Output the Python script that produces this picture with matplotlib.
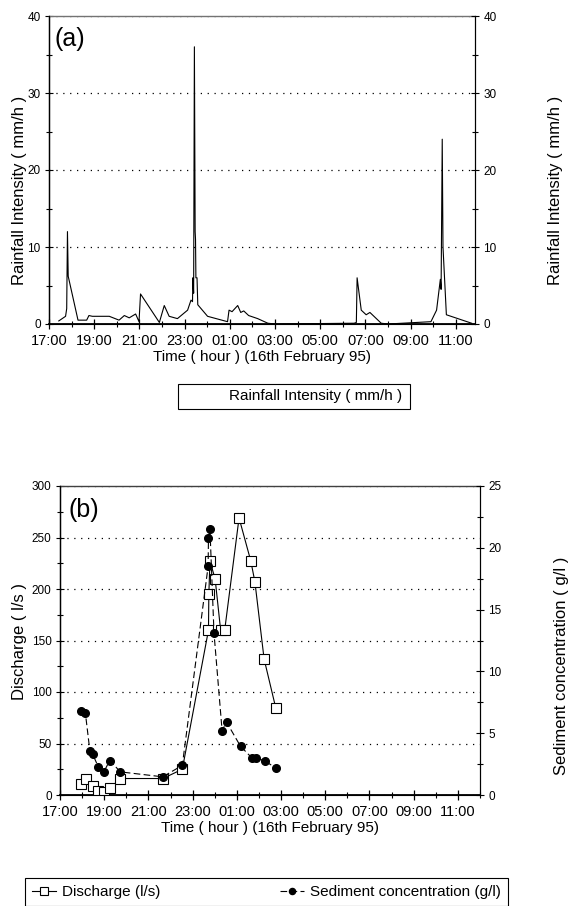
import numpy as np
import pandas as pd
import matplotlib
matplotlib.use("Agg")
import matplotlib.pyplot as plt
import matplotlib.dates as mdates
from matplotlib.ticker import MultipleLocator

plt.rcParams["font.family"] = ["Liberation Sans", "DejaVu Sans"]

# ------------------------------------------------------
# data
# ------------------------------------------------------
# (a) rainfall intensity, mm/h
rain_time = ["17:26", "17:44", "17:47", "17:49", "17:51", "18:17", "18:40", "18:46",
             "18:55", "19:40", "20:06", "20:20", "20:33", "20:50", "20:59", "21:03",
             "21:53", "22:06", "22:19", "22:41", "23:08", "23:17", "23:21", "23:22",
             "23:24", "23:26", "23:28", "23:29", "23:30", "23:33", "23:35", "00:01",
             "00:54", "00:58", "01:06", "01:21", "01:29", "01:37", "01:50", "02:14",
             "02:41", "03:00", "06:30", "06:36", "06:38", "06:49", "07:02", "07:12",
             "07:42", "08:00", "09:54", "10:09", "10:19", "10:21", "10:24", "10:26",
             "10:35", "11:42"]
rain_mm_h = [0.4, 1.0, 2.0, 12.0, 6.2, 0.5, 0.5, 1.1,
             1.0, 1.0, 0.5, 1.1, 0.8, 1.3, 0.3, 3.9,
             0.2, 2.4, 1.0, 0.7, 1.8, 3.1, 2.9, 6.0,
             4.0, 36.0, 12.0, 11.0, 6.0, 6.0, 2.5, 1.0,
             0.3, 1.8, 1.6, 2.4, 1.5, 1.7, 1.1, 0.7,
             0.1, 0.0, 0.1, 0.2, 6.0, 1.8, 1.2, 1.5,
             0.1, 0.0, 0.3, 1.8, 5.8, 4.5, 24.0, 10.0,
             1.2, 0.1]

# (b) discharge, l/s
q_time = ["17:58", "18:11", "18:30", "18:44", "18:59", "19:15", "19:44", "21:39",
          "22:32", "23:43", "23:44", "23:47", "00:01", "00:16", "00:27", "01:06",
          "01:38", "01:49", "02:14", "02:46"]
q_ls = [11, 16, 9, 4, 3, 6.5, 16, 16,
        25, 160, 195, 227, 210, 160, 160, 269,
        227, 207, 132, 84]

# (b) sediment concentration, g/l
sed_time = ["17:58", "18:09", "18:21", "18:29", "18:44", "18:59", "19:15", "19:44",
            "21:39", "22:32", "23:42", "23:43", "23:47", "23:58", "00:20", "00:32",
            "01:10", "01:41", "01:52", "02:17", "02:47"]
sed_gl = [6.82, 6.6, 3.59, 3.28, 2.27, 1.87, 2.79, 1.87,
          1.47, 2.4, 18.5, 20.8, 21.5, 13.1, 5.2, 5.9,
          3.94, 3.0, 3.0, 2.74, 2.16]

TIME_LABEL = "Time ( hour ) (16th February 95)"


def to_time(hhmm):
    t = pd.to_datetime(["1995-02-16 " + s for s in hhmm])
    days = pd.to_timedelta((t.hour < 17).astype(int), unit="D")
    return (t + days).to_numpy()


# ------------------------------------------------------
# figure
# ------------------------------------------------------
W, H = 569, 906
fig = plt.figure(figsize=(W / 100, H / 100), dpi=100)


def add_axes_px(left, top, right, bottom):
    return fig.add_axes([left / W, 1 - bottom / H, (right - left) / W, (bottom - top) / H])


def style_time_axis(ax, x_end):
    ax.set_xlim(np.datetime64("1995-02-16T17:00"), np.datetime64(x_end))
    ax.xaxis.set_major_locator(mdates.HourLocator(byhour=[17, 19, 21, 23, 1, 3, 5, 7, 9, 11]))
    ax.xaxis.set_minor_locator(mdates.HourLocator())
    ax.xaxis.set_major_formatter(mdates.DateFormatter("%H:%M"))
    ax.tick_params(axis="x", which="major", direction="inout", length=7, width=0.9,
                   labelsize=10.5, pad=4)
    ax.tick_params(axis="x", which="minor", direction="inout", length=5, width=0.8)
    ax.set_xlabel(TIME_LABEL, fontsize=11, labelpad=1)


def style_frame(ax, top_color):
    ax.spines["bottom"].set_linewidth(1.3)
    ax.spines["left"].set_linewidth(1.0)
    ax.spines["right"].set_linewidth(0.8)
    ax.spines["top"].set_linewidth(1.0)
    ax.spines["top"].set_color(top_color)
    ax.yaxis.grid(True, linestyle=(0, (1, 4.5)), color="k", linewidth=0.9)
    ax.set_axisbelow(True)


def style_y(ax, major, minor):
    ax.yaxis.set_major_locator(MultipleLocator(major))
    ax.yaxis.set_minor_locator(MultipleLocator(minor))
    ax.tick_params(axis="y", which="major", direction="inout", length=6, width=0.8,
                   labelsize=8.5, pad=3)
    ax.tick_params(axis="y", which="minor", direction="inout", length=5, width=0.8)


def place_ylabel(ax, x_px, y_px, left, top, right, bottom):
    # anchor of the rotated label, given in figure pixels
    ax.yaxis.set_label_coords((x_px - left) / (right - left), (bottom - y_px) / (bottom - top))


# ---------------- (a) rainfall ----------------
A_BOX = (49, 16, 475, 324)
ax_a = add_axes_px(*A_BOX)
t_rain = to_time(rain_time)
rain_line, = ax_a.plot(t_rain, rain_mm_h, color="k", linewidth=0.8)
ax_a.set_ylim(0, 40)
style_y(ax_a, 10, 5)
style_frame(ax_a, "0.45")
style_time_axis(ax_a, "1995-02-17T11:51")
ax_a.set_ylabel("Rainfall Intensity ( mm/h )", fontsize=12)
place_ylabel(ax_a, 27, 190, *A_BOX)
ax_a.text(0.012, 0.965, "(a)", transform=ax_a.transAxes, fontsize=18, va="top", ha="left")

ax_a2 = ax_a.twinx()
ax_a2.set_ylim(0, 40)
style_y(ax_a2, 10, 5)
ax_a2.spines["top"].set_visible(False)
ax_a2.set_ylabel("Rainfall Intensity ( mm/h )", fontsize=12)
place_ylabel(ax_a2, 548, 190, *A_BOX)

leg_a = fig.legend([rain_line], ["Rainfall Intensity ( mm/h )"], loc="upper left",
                   bbox_to_anchor=(178 / W, 1 - 384 / H, (410 - 178) / W, 0),
                   mode="expand", fontsize=11, frameon=True, fancybox=False,
                   edgecolor="k", framealpha=1, handlelength=2.2, borderaxespad=0,
                   borderpad=0.35)
leg_a.get_frame().set_linewidth(0.8)
leg_a.legend_handles[0].set_visible(False)

# ---------------- (b) discharge / sediment ----------------
B_BOX = (60, 486, 480, 795)
ax_b = add_axes_px(*B_BOX)
t_q = to_time(q_time)
t_sed = to_time(sed_time)
q_line, = ax_b.plot(t_q, q_ls, color="k", linewidth=0.8, marker="s", markersize=6.5,
                    markerfacecolor="white", markeredgecolor="k", markeredgewidth=0.8,
                    zorder=4)
ax_b.set_ylim(0, 300)
style_y(ax_b, 50, 25)
style_frame(ax_b, "0.25")
style_time_axis(ax_b, "1995-02-17T12:00")
ax_b.set_ylabel("Discharge ( l/s )", fontsize=12)
place_ylabel(ax_b, 27, 642, *B_BOX)
ax_b.text(0.02, 0.96, "(b)", transform=ax_b.transAxes, fontsize=18, va="top", ha="left")

ax_b2 = ax_b.twinx()
sed_line, = ax_b2.plot(t_sed, sed_gl, color="k", linewidth=0.8, linestyle=(0, (6, 3)),
                       marker="o", markersize=5.5, markerfacecolor="k",
                       markeredgecolor="k")
ax_b2.set_ylim(0, 25)
style_y(ax_b2, 5, 2.5)
ax_b2.spines["top"].set_visible(False)
ax_b2.set_ylabel("Sediment concentration ( g/l )", fontsize=12)
place_ylabel(ax_b2, 554, 666, *B_BOX)

leg_b = fig.legend([q_line, sed_line],
                   ["Discharge (l/s)", "Sediment concentration (g/l)"],
                   loc="upper left", ncol=2,
                   bbox_to_anchor=(25 / W, 1 - 878 / H, (508 - 25) / W, 0),
                   mode="expand", fontsize=11, frameon=True, fancybox=False,
                   edgecolor="k", framealpha=1, handlelength=1.6, handletextpad=0.4,
                   borderaxespad=0, borderpad=0.45, markerscale=0.8)
leg_b.get_frame().set_linewidth(0.8)

fig.savefig("out.png", dpi=100)
